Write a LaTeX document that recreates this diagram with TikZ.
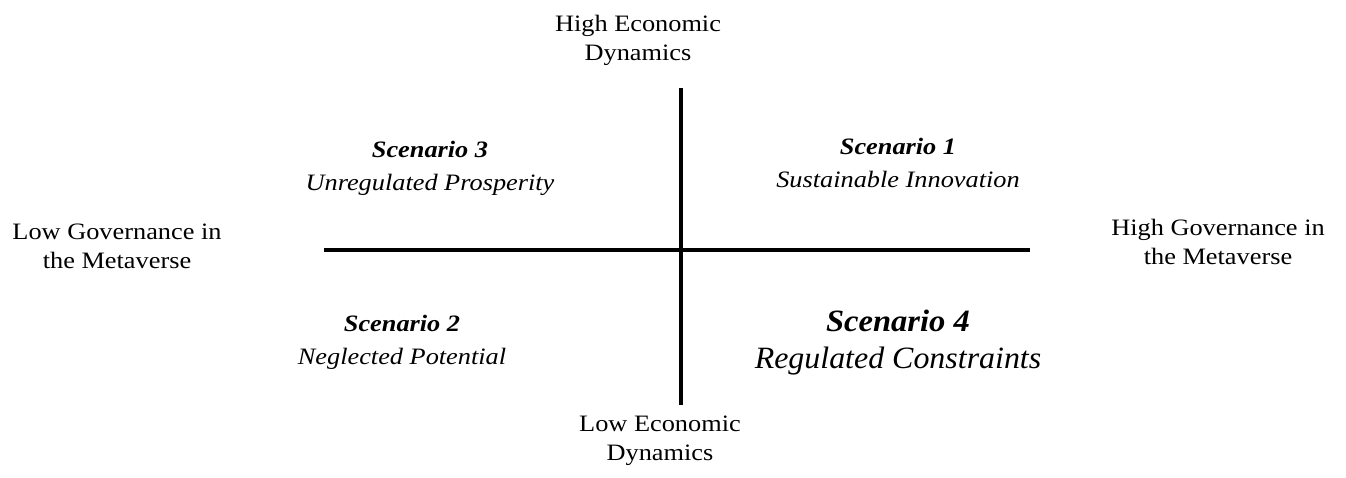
\documentclass[tikz,border=0pt]{standalone}
\usepackage{fontspec}
\setmainfont{Liberation Serif}
\newfontfamily\axisfont[FakeStretch=1.12]{Liberation Serif}
\newfontfamily\timesfont[FakeStretch=1.03]{Liberation Serif}
\newfontfamily\timeswide[FakeStretch=1.05]{Liberation Serif}
\begin{document}
\begin{tikzpicture}[x=1pt,y=-1pt,
  axis/.style={line width=4pt},
  axlabel/.style={align=center,font=\axisfont\fontsize{23.5}{29}\selectfont,inner sep=0pt},
  scen/.style={align=center,font=\axisfont\itshape\fontsize{23.5}{33}\selectfont,inner sep=0pt},
  scenbig/.style={align=center,font=\timesfont\itshape\fontsize{31}{37}\selectfont,inner sep=0pt}]
\useasboundingbox (0,0) rectangle (1346,477);
% axes
\coordinate (vtop) at (681,88);
\coordinate (vbot) at (681,405);
\coordinate (hleft) at (324,250);
\coordinate (hright) at (1030,250);
\draw[axis] (vtop) -- (vbot);
\draw[axis] (hleft) -- (hright);
% axis labels
\node[axlabel] (highecon) at (638,40) {High Economic\\Dynamics};
\node[axlabel] (lowecon) at (660,441) {Low Economic\\Dynamics};
\node[axlabel] (lowgov) at (117,246) {Low Governance in\\the Metaverse};
\node[axlabel] (highgov) at (1218,242) {High Governance in\\the Metaverse};
% scenarios
\node[scen] (s3) at (430,168) {\textbf{Scenario 3}\\Unregulated Prosperity};
\node[scen] (s1) at (898,163) {\textbf{Scenario 1}\\Sustainable Innovation};
\node[scen] (s2) at (402,342) {\textbf{Scenario 2}\\Neglected Potential};
\node[scenbig] (s4) at (898,343) {{\timeswide\bfseries Scenario 4}\\Regulated Constraints};
\end{tikzpicture}
\end{document}
